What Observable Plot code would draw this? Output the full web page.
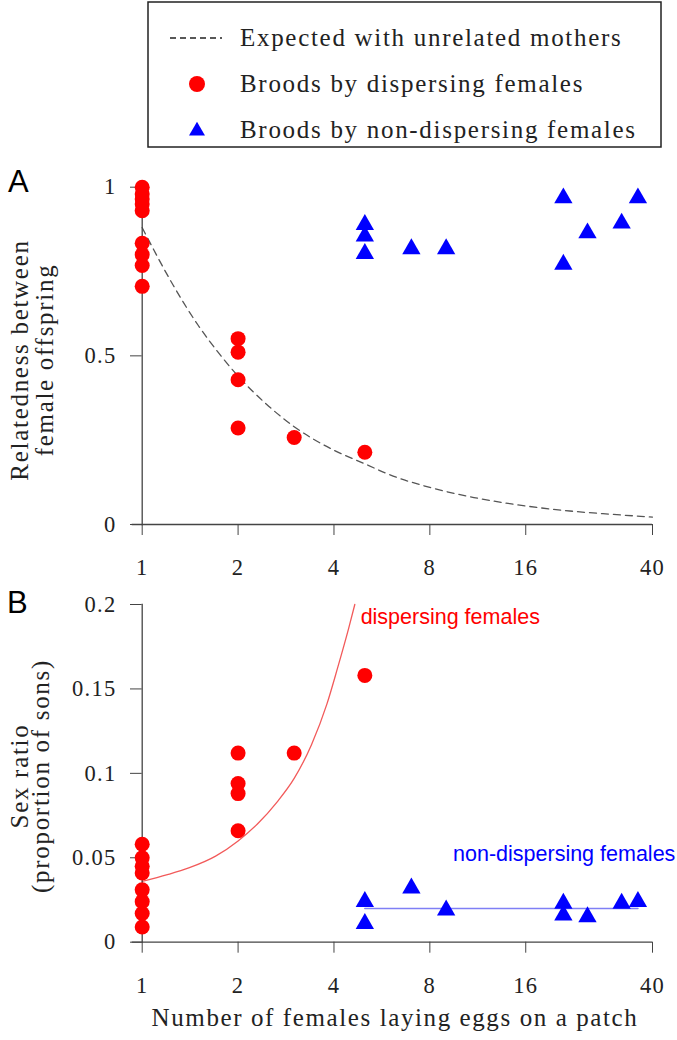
<!DOCTYPE html>
<html><head><meta charset="utf-8">
<script src="https://cdn.jsdelivr.net/npm/d3@7"></script>
<script src="https://cdn.jsdelivr.net/npm/@observablehq/plot@0.6"></script>
<style>
html,body{margin:0;padding:0;background:#fff;}
#root{position:relative;width:677px;height:1040px;overflow:hidden;font-family:"Liberation Serif",serif;color:#222;background:#fff;}
#root > *{position:absolute;}
</style></head><body><div id="root"></div>
<script>
// ---------- Data ----------
const xTicks = [1, 2, 4, 8, 16, 40];
const yTicksA = [0, 0.5, 1];
const yTicksB = [0, 0.05, 0.1, 0.15, 0.2];

// Panel A: relatedness between female offspring
const relDispX = [1, 1, 1, 1, 1, 1, 1, 1, 1, 2, 2, 2, 2, 3, 5];
const relDispY = [1.0, 0.98, 0.965, 0.95, 0.93, 0.834, 0.80, 0.768, 0.706, 0.551, 0.511, 0.429, 0.286, 0.258, 0.214];
const relNonX = [5, 5, 5, 7, 9, 21, 21, 25, 32, 36];
const relNonY = [0.889, 0.855, 0.803, 0.817, 0.817, 0.968, 0.771, 0.864, 0.893, 0.968];
const expX = [1, 1.25, 1.5, 1.75, 2, 2.5, 3, 4, 5, 6, 8, 11, 16, 22, 30, 40];
const expY = [0.88, 0.71, 0.59, 0.505, 0.44, 0.35, 0.29, 0.22, 0.18, 0.147, 0.11, 0.08, 0.055, 0.04, 0.03, 0.022];

// Panel B: sex ratio
const sexDispX = [1, 1, 1, 1, 1, 1, 1, 1, 2, 2, 2, 2, 3, 5];
const sexDispY = [0.058, 0.050, 0.045, 0.041, 0.031, 0.024, 0.017, 0.009, 0.112, 0.094, 0.088, 0.066, 0.112, 0.158];
const sexNonX = [5, 5, 7, 9, 21, 21, 25, 32, 36];
const sexNonY = [0.024, 0.011, 0.032, 0.019, 0.023, 0.016, 0.015, 0.023, 0.024];
const predDispX = [1, 1.2, 1.4, 1.7, 2, 2.3, 2.65, 3, 3.4, 3.8, 4.1, 4.45, 4.65];
const predDispY = [0.036, 0.040, 0.044, 0.051, 0.060, 0.070, 0.083, 0.097, 0.117, 0.141, 0.162, 0.186, 0.2];
const predNonX = [5, 36];
const predNonY = [0.02, 0.02];

const labelText = ["dispersing females", "non-dispersing females"];
const labelX = [4.85, 9.46];
const labelY = [0.1886, 0.0483];
const labelColor = ["#ff0000", "#0000ff"];

const legendText = ["Expected with unrelated mothers", "Broods by dispersing females", "Broods by non-dispersing females"];

// ---------- Helpers ----------
const zip = (xs, ys) => xs.map((x, i) => ({x, y: ys[i]}));
const RED = "#ff0000", BLUE = "#0000ff", AX = "#444";
const style = {fontFamily: "Liberation Serif", fontSize: "22.5px", color: "#222", background: "transparent", overflow: "visible", letterSpacing: "1.3px"};
const root = document.getElementById("root");

function axes(yTicks) {
  return [
    Plot.ruleY([0], {stroke: AX, insetLeft: -10, strokeWidth: 1.3}),
    Plot.frame({anchor: "left", stroke: AX, strokeWidth: 1.3}),
    Plot.axisY({ticks: yTicks, tickFormat: d => String(d), tickSize: 11.7, tickPadding: 14, label: null, fontSize: 22.5, stroke: AX, fill: "#222"}),
    Plot.axisX({ticks: xTicks, tickFormat: () => "", tickSize: 11, label: null, stroke: AX}),
    Plot.text(xTicks, {x: d => d, text: d => String(d), frameAnchor: "bottom", dy: 35, lineAnchor: "top", fontSize: 22.5, fill: "#222"})
  ];
}

// ---------- Panel A ----------
const plotA = Plot.plot({
  width: 677, height: 440,
  marginLeft: 141.7, marginRight: 25, marginTop: 36.7, marginBottom: 66,
  x: {type: "log", domain: [1, 40]},
  y: {domain: [0, 1]},
  style,
  marks: [
    Plot.line(zip(expX, expY), {x: "x", y: "y", stroke: "#555", strokeWidth: 1.3, strokeDasharray: "7,5", curve: "monotone-x"}),
    ...axes(yTicksA),
    Plot.dot(zip(relDispX, relDispY), {x: "x", y: "y", r: 7.5, fill: RED, stroke: "none"}),
    Plot.dot(zip(relNonX, relNonY), {x: "x", y: "y", r: 6.8, symbol: "triangle", fill: BLUE, stroke: "none"})
  ]
});
plotA.style.left = "0px"; plotA.style.top = "150px";
root.appendChild(plotA);

// ---------- Panel B ----------
const plotB = Plot.plot({
  width: 677, height: 470,
  marginLeft: 141.7, marginRight: 25, marginTop: 34, marginBottom: 98.3,
  x: {type: "log", domain: [1, 40]},
  y: {domain: [0, 0.2]},
  style,
  marks: [
    Plot.line(zip(predDispX, predDispY), {x: "x", y: "y", stroke: "#f25a5a", strokeWidth: 1.3, curve: "monotone-x"}),
    Plot.line(zip(predNonX, predNonY), {x: "x", y: "y", stroke: "#7f7ff5", strokeWidth: 1.6}),
    ...axes(yTicksB),
    Plot.dot(zip(sexDispX, sexDispY), {x: "x", y: "y", r: 7.5, fill: RED, stroke: "none"}),
    Plot.dot(zip(sexNonX, sexNonY), {x: "x", y: "y", r: 6.8, symbol: "triangle", fill: BLUE, stroke: "none"}),
    Plot.text(labelText.map((t, i) => ({t, x: labelX[i], y: labelY[i], c: labelColor[i]})),
      {x: "x", y: "y", text: "t", fill: "c", textAnchor: "start", lineAnchor: "bottom", fontFamily: "Liberation Sans", fontSize: 21.5})
  ]
});
plotB.style.left = "0px"; plotB.style.top = "570px";
root.appendChild(plotB);
// sans annotations: no extra letter spacing
d3.select(plotB).selectAll('g[font-family="Liberation Sans"]').attr("letter-spacing", "0px");

// ---------- Titles / panel letters (text overlay) ----------
const ns = "http://www.w3.org/2000/svg";
const over = document.createElementNS(ns, "svg");
over.setAttribute("width", 677); over.setAttribute("height", 1040);
over.style.left = "0px"; over.style.top = "0px"; over.style.pointerEvents = "none";
function txt(parent, s, attrs) {
  const t = document.createElementNS(ns, "text");
  for (const k in attrs) t.setAttribute(k, attrs[k]);
  t.textContent = s; parent.appendChild(t); return t;
}
const serif = {"font-family": "Liberation Serif", "font-size": 25, "letter-spacing": "1.7px", fill: "#222"};
const sans = {"font-family": "Liberation Sans", "font-size": 31, fill: "#000"};
txt(over, "A", {...sans, x: 8, y: 192});
txt(over, "B", {...sans, x: 7, y: 613});
txt(over, "Relatedness between", {...serif, "text-anchor": "middle", transform: "translate(28,360) rotate(-90)"});
txt(over, "female offspring", {...serif, "text-anchor": "middle", transform: "translate(53,360) rotate(-90)"});
txt(over, "Sex ratio", {...serif, "text-anchor": "middle", transform: "translate(28,776) rotate(-90)"});
txt(over, "(proportion of sons)", {...serif, "text-anchor": "middle", transform: "translate(49,776) rotate(-90)"});
txt(over, "Number of females laying eggs on a patch", {...serif, "letter-spacing": "1.6px", "text-anchor": "middle", x: 395, y: 1026});
root.appendChild(over);

// ---------- Legend box ----------
const leg = document.createElementNS(ns, "svg");
leg.setAttribute("width", 677); leg.setAttribute("height", 160);
leg.style.left = "0px"; leg.style.top = "0px";
const box = document.createElementNS(ns, "rect");
Object.entries({x: 148, y: 2, width: 513, height: 145, fill: "#fff", stroke: "#222", "stroke-width": 1.5}).forEach(([k, v]) => box.setAttribute(k, v));
leg.appendChild(box);
const rowY = [38, 84, 130];
const ln = document.createElementNS(ns, "line");
Object.entries({x1: 170, x2: 222, y1: rowY[0], y2: rowY[0], stroke: "#222", "stroke-width": 1.3, "stroke-dasharray": "6,4"}).forEach(([k, v]) => ln.setAttribute(k, v));
leg.appendChild(ln);
const c = document.createElementNS(ns, "circle");
Object.entries({cx: 197, cy: rowY[1], r: 8, fill: RED}).forEach(([k, v]) => c.setAttribute(k, v));
leg.appendChild(c);
const tri = document.createElementNS(ns, "path");
tri.setAttribute("d", d3.symbol(d3.symbolTriangle, 110)());
tri.setAttribute("transform", `translate(197,${rowY[2] + 1})`);
tri.setAttribute("fill", BLUE);
leg.appendChild(tri);
legendText.forEach((s, i) => txt(leg, s, {...serif, x: 240, y: rowY[i] + 8}));
root.appendChild(leg);
</script></body></html>
